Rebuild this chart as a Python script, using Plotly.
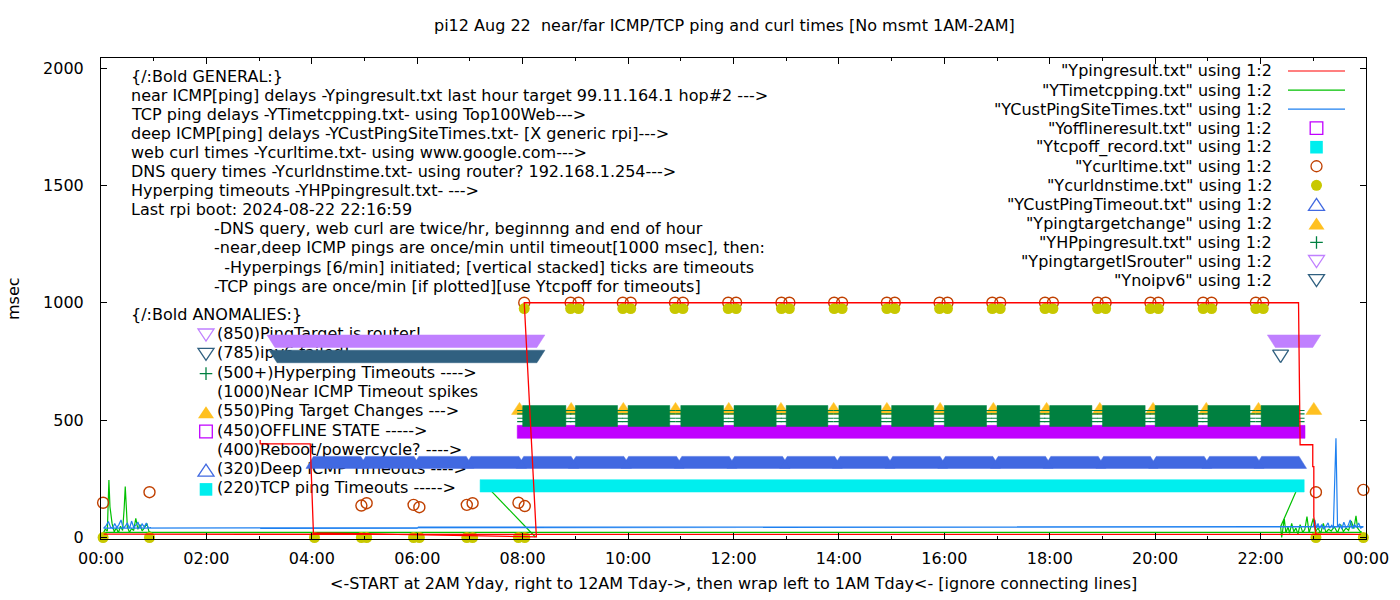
import plotly.graph_objects as go

# x = hours after midnight, y = msec

# near ICMP ping delays (Ypingresult.txt), kept in file order (wraps at midnight)
ping_t = [3.02, 3.02, 3.97, 4.03, 8.26, 8.03, 22.72, 22.75, 22.99, 22.99, 23.01, 23.01, 23.05, 23.90, 0.05, 0.95]
ping_ms = [415, 399, 399, 20, 3, 1000, 1000, 395, 395, 302, 302, 89, 15, 13, 14, 14]

# TCP ping delays (YTimetcpping.txt)
tcp_drop_t = [7.31, 8.24]
tcp_drop_ms = [220, 2]
tcp_t = [22.72, 22.38, 22.40, 22.45, 22.48, 22.52, 22.55, 22.59, 22.63, 22.67, 22.71, 22.75,
         22.80, 22.84, 22.88, 22.92, 22.96, 23.00, 23.04, 23.09, 23.14, 23.19, 23.24, 23.29,
         23.34, 23.40, 23.46, 23.52, 23.57, 23.62, 23.67, 23.72, 23.77, 23.81, 23.84, 23.88, 23.92,
         0.05, 0.08, 0.12, 0.15, 0.17, 0.21, 0.25, 0.29, 0.33, 0.37, 0.41, 0.44, 0.46, 0.50,
         0.54, 0.58, 0.62, 0.66, 0.70, 0.74, 0.78, 0.82, 0.87, 0.91, 0.95]
tcp_ms = [220, 46, 0, 79, 20, 45, 18, 60, 25, 40, 15, 55,
          22, 35, 89, 20, 50, 81, 25, 40, 18, 60, 22, 35,
          28, 45, 20, 55, 25, 40, 30, 70, 38, 92, 40, 28, 22,
          22, 35, 28, 245, 131, 60, 25, 40, 20, 48, 30, 126, 217, 45,
          22, 38, 30, 82, 35, 55, 28, 40, 60, 25, 22]

# deep ICMP delays (YCustPingSiteTimes.txt)
cust_t = [3.02, 6.00, 6.02, 23.00, 23.03, 23.06, 23.09, 23.12, 23.16, 23.20, 23.24, 23.28,
          23.31, 23.35, 23.38, 23.41, 23.43, 23.46, 23.50, 23.54, 23.58, 23.62, 23.66, 23.70,
          23.74, 23.78, 23.82, 23.86, 23.90, 23.95,
          0.05, 0.10, 0.14, 0.18, 0.22, 0.26, 0.30, 0.34, 0.38, 0.42, 0.46, 0.50,
          0.54, 0.58, 0.62, 0.66, 0.70, 0.74, 0.78, 0.82, 0.86, 0.90, 0.95]
cust_ms = [39, 39, 44, 46, 75, 40, 60, 38, 55, 35, 48, 62,
           40, 52, 38, 250, 423, 45, 58, 36, 65, 42, 50, 75,
           38, 55, 44, 62, 40, 46,
           40, 52, 68, 45, 38, 60, 42, 55, 75, 40, 48, 62,
           38, 70, 44, 52, 66, 40, 58, 45, 62, 40, 42]

# offline state (Yofflineresult.txt), one point per minute -> runs
OFFLINE_MS = 450
off_start = [8.02]
off_end = [22.72]

# TCP ping timeouts (Ytcpoff_record.txt)
TCPOFF_MS = 220
tcpoff_start = [7.31]
tcpoff_end = [22.71]

# web curl times (Ycurltime.txt)
curl_t = [0.04, 0.92, 4.94, 5.04, 5.93, 6.04, 6.94, 7.05, 7.92, 8.04,
          8.03, 8.91, 9.06, 9.90, 10.05, 10.89, 11.04, 11.90, 12.05, 12.91, 13.06,
          13.91, 14.06, 14.91, 15.06, 15.91, 16.06, 16.91, 17.06, 17.91, 18.06,
          18.91, 19.06, 19.91, 20.06, 20.91, 21.07, 21.91, 22.05, 23.05, 23.95]
curl_ms = [148, 193, 136, 146, 139, 129, 139, 146, 148, 134,
           1000, 1000, 1000, 1000, 1000, 1000, 1000, 1000, 1000, 1000, 1000,
           1000, 1000, 1000, 1000, 1000, 1000, 1000, 1000, 1000, 1000,
           1000, 1000, 1000, 1000, 1000, 1000, 1000, 1000, 193, 203]

# DNS query times (Ycurldnstime.txt)
dns_t = [0.04, 0.92, 4.05, 4.94, 5.04, 5.93, 6.04, 6.94, 7.05, 7.92, 8.04,
         8.03, 8.91, 9.06, 9.90, 10.05, 10.89, 11.04, 11.90, 12.05, 12.91, 13.06,
         13.91, 14.06, 14.91, 15.06, 15.91, 16.06, 16.91, 17.06, 17.91, 18.06,
         18.91, 19.06, 19.91, 20.06, 20.91, 21.07, 21.91, 22.05, 23.05, 23.95]
dns_ms = [0, 0, 0, 0, 0, 0, 0, 0, 0, 0, 0,
          975, 975, 975, 975, 975, 975, 975, 975, 975, 975, 975,
          975, 975, 975, 975, 975, 975, 975, 975, 975, 975,
          975, 975, 975, 975, 975, 975, 975, 975, 0, 0]

# deep ICMP timeouts (YCustPingTimeout.txt)
DEEP_MS = 320
deep_start = [4.03, 5.02, 6.03, 7.02, 8.02, 9.01, 10.01, 11.02, 12.02, 13.02,
              14.02, 15.02, 16.02, 17.02, 18.02, 19.02, 20.02, 21.03, 22.02]
deep_end = [4.93, 5.94, 6.93, 7.93, 8.92, 9.92, 10.92, 11.92, 12.93, 13.92,
            14.92, 15.92, 16.92, 17.92, 18.92, 19.91, 20.93, 21.92, 22.73]

# ping target changes (Ypingtargetchange)
TARGET_MS = 550
tc_t = [7.94, 8.92, 9.91, 10.90, 11.91, 12.90, 13.90, 14.91, 15.92, 16.93,
        17.94, 18.95, 19.96, 20.97, 21.96, 23.01]

# hyperping timeouts (YHPpingresult.txt), stacked levels
hp_levels = [494, 508, 527, 541]
hp_start = [8.00, 9.00, 10.00, 11.00, 12.01, 13.00, 14.00, 15.00, 16.00, 17.00,
            18.00, 19.00, 20.00, 21.00, 22.01]
hp_end = [8.82, 9.80, 10.79, 11.81, 12.81, 13.79, 14.80, 15.80, 16.80, 17.81,
          18.80, 19.81, 20.81, 21.80, 22.73]

# ping target is router (YpingtargetISrouter)
ISROUTER_MS = 850
isr_start = [3.30, 22.28]
isr_end = [8.27, 22.99]

# no ipv6 (Ynoipv6)
NOIPV6_MS = 785
v6_start = [3.34]
v6_end = [8.27]
v6_single = [22.38]

hour_ticks = [0, 2, 4, 6, 8, 10, 12, 14, 16, 18, 20, 22, 24]
hour_labels = ["00:00", "02:00", "04:00", "06:00", "08:00", "10:00", "12:00",
               "14:00", "16:00", "18:00", "20:00", "22:00", "00:00"]
odd_hours = [1, 3, 5, 7, 9, 11, 13, 15, 17, 19, 21, 23]

general_lines = [
    "{/:Bold GENERAL:}",
    "near ICMP[ping] delays -Ypingresult.txt last hour target 99.11.164.1 hop#2 ---&gt;",
    "TCP ping delays -YTimetcpping.txt- using Top100Web---&gt;",
    "deep ICMP[ping] delays -YCustPingSiteTimes.txt- [X generic rpi]---&gt;",
    "web curl times -Ycurltime.txt- using www.google.com---&gt;",
    "DNS query times -Ycurldnstime.txt- using router? 192.168.1.254---&gt;",
    "Hyperping timeouts -YHPpingresult.txt- ---&gt;",
    "Last rpi boot: 2024-08-22 22:16:59",
    "-DNS query, web curl are twice/hr, beginnng and end of hour",
    "-near,deep ICMP pings are once/min until timeout[1000 msec], then:",
    "  -Hyperpings [6/min] initiated; [vertical stacked] ticks are timeouts",
    "-TCP pings are once/min [if plotted][use Ytcpoff for timeouts]",
]
anomaly_lines = [
    "(850)PingTarget is router!",
    "(785)ipv6 failed!",
    "(500+)Hyperping Timeouts ----&gt;",
    "(1000)Near ICMP Timeout spikes",
    "(550)Ping Target Changes ---&gt;",
    "(450)OFFLINE STATE -----&gt;",
    "(400)Reboot/powercycle? ----&gt;",
    "(320)Deep ICMP Timeouts ----&gt;",
    "(220)TCP ping Timeouts -----&gt;",
]
anomaly_keys = ["tri-down-open", "tri-down-open", "plus", None, "tri-up", "square-open", None,
                "tri-up-open", "square"]
anomaly_colors = ["#c080ff", "#306080", "#008040", None, "#ffc020", "#c000ff", None,
                  "#4169e1", "#00eeee"]
legend_names = ['"Ypingresult.txt" using 1:2', '"YTimetcpping.txt" using 1:2',
                '"YCustPingSiteTimes.txt" using 1:2', '"Yofflineresult.txt" using 1:2',
                '"Ytcpoff_record.txt" using 1:2', '"Ycurltime.txt" using 1:2',
                '"Ycurldnstime.txt" using 1:2', '"YCustPingTimeout.txt" using 1:2',
                '"Ypingtargetchange" using 1:2', '"YHPpingresult.txt" using 1:2',
                '"YpingtargetISrouter" using 1:2', '"Ynoipv6" using 1:2']
legend_keys = ["line", "line", "line", "square-open", "square", "circle-open", "circle",
               "tri-up-open", "tri-up", "plus", "tri-down-open", "tri-down-open"]
legend_colors = ["#ff0000", "#00c000", "#1e80f0", "#c000ff", "#00eeee", "#c04000", "#c8c800",
                 "#4169e1", "#ffc020", "#008040", "#c080ff", "#306080"]

# plot frame in page pixels
LEFT, RIGHT, TOP, BOTTOM = 101, 1366, 58, 539
Y_MIN, Y_MAX = -6.4, 2042.6
H_PX = 24 / (RIGHT - LEFT)
MS_PX = (Y_MAX - Y_MIN) / (BOTTOM - TOP)


def xp(px):
    return (px - LEFT) / (RIGHT - LEFT)


def yp(py):
    return (BOTTOM - py) / (BOTTOM - TOP)


def band(starts, ends, value, up_px, down_px, top_pad, bot_pad):
    # outline of a run of densely packed point symbols
    top = value + up_px * MS_PX
    bot = value - down_px * MS_PX
    xs, ys = [], []
    for s, e in zip(starts, ends):
        xs += [s - bot_pad * H_PX, e + bot_pad * H_PX, e + top_pad * H_PX,
               s - top_pad * H_PX, s - bot_pad * H_PX, None]
        ys += [bot, bot, top, top, bot, None]
    return xs, ys


def filled(xy, color):
    return go.Scatter(x=xy[0], y=xy[1], mode="lines", fill="toself", fillcolor=color,
                      line=dict(color=color, width=0.5), hoverinfo="skip")


def key_shapes(kind, cx, cy, color):
    clear = "rgba(0,0,0,0)"
    if kind == "line":
        return [dict(type="line", x0=xp(cx - 28.5), x1=xp(cx + 28.5), y0=yp(cy), y1=yp(cy),
                     line=dict(color=color, width=1.2))]
    if kind.startswith("square"):
        return [dict(type="rect", x0=xp(cx - 6.3), x1=xp(cx + 6.3), y0=yp(cy + 6.3), y1=yp(cy - 6.3),
                     line=dict(color=color, width=1.3 if kind.endswith("open") else 0),
                     fillcolor=clear if kind.endswith("open") else color)]
    if kind.startswith("circle"):
        return [dict(type="circle", x0=xp(cx - 5.5), x1=xp(cx + 5.5), y0=yp(cy + 5.5), y1=yp(cy - 5.5),
                     line=dict(color=color, width=1.3 if kind.endswith("open") else 0),
                     fillcolor=clear if kind.endswith("open") else color)]
    if kind == "plus":
        path = (f"M{xp(cx - 6.3)},{yp(cy)} L{xp(cx + 6.3)},{yp(cy)} "
                f"M{xp(cx)},{yp(cy - 6.3)} L{xp(cx)},{yp(cy + 6.3)}")
        return [dict(type="path", path=path, line=dict(color=color, width=1.3))]
    if kind.startswith("tri-down"):
        path = (f"M{xp(cx - 8)},{yp(cy - 6)} L{xp(cx + 8)},{yp(cy - 6)} "
                f"L{xp(cx)},{yp(cy + 6)} Z")
    else:
        path = (f"M{xp(cx - 8)},{yp(cy + 6)} L{xp(cx + 8)},{yp(cy + 6)} "
                f"L{xp(cx)},{yp(cy - 6)} Z")
    is_open = kind.endswith("open")
    return [dict(type="path", path=path, line=dict(color=color, width=1.3 if is_open else 0),
                 fillcolor=clear if is_open else color)]


fig = go.Figure()

# anomaly notes sit underneath the data, as in the original
anom_rows = [335 + 19.3 * i for i in range(len(anomaly_lines))]
fig.add_trace(go.Scatter(
    x=[(217 - LEFT) * H_PX for _ in anomaly_lines],
    y=[Y_MIN + (BOTTOM - r) * MS_PX for r in anom_rows],
    mode="text", text=anomaly_lines, textposition="middle right",
    textfont=dict(family="DejaVu Sans", size=16, color="black"), hoverinfo="skip",
))

fig.add_trace(go.Scatter(x=tcp_drop_t + [None] + tcp_t, y=tcp_drop_ms + [None] + tcp_ms,
                         mode="lines", line=dict(color="#00c000", width=1.2), hoverinfo="skip"))
fig.add_trace(go.Scatter(x=cust_t, y=cust_ms, mode="lines",
                         line=dict(color="#1e80f0", width=1.2), hoverinfo="skip"))

fig.add_trace(filled(band(off_start, off_end, OFFLINE_MS, 6.5, 6.5, 6.5, 6.5), "#c000ff"))
fig.add_trace(filled(band(tcpoff_start, tcpoff_end, TCPOFF_MS, 6.2, 6.2, 6.2, 6.2), "#00eeee"))

fig.add_trace(go.Scatter(x=curl_t, y=curl_ms, mode="markers", hoverinfo="skip", cliponaxis=False,
                         marker=dict(symbol="circle-open", size=11, color="#c04000",
                                     line=dict(width=1.4, color="#c04000"))))
fig.add_trace(go.Scatter(x=dns_t, y=dns_ms, mode="markers", hoverinfo="skip", cliponaxis=False,
                         marker=dict(symbol="circle", size=11, color="#c8c800")))

fig.add_trace(filled(band(deep_start, deep_end, DEEP_MS, 6, 6, 0, 7.5), "#4169e1"))
fig.add_trace(filled(band(tc_t, tc_t, TARGET_MS, 6, 6, 0, 8), "#ffc020"))

# hyperping: vertical strokes fill the block, horizontal strokes stick out
hp_span_px = (max(hp_levels) - min(hp_levels)) / MS_PX
fig.add_trace(filled(band(hp_start, hp_end, min(hp_levels), hp_span_px + 5, 5, 0, 0), "#008040"))
arm_x, arm_y = [], []
for lvl in hp_levels:
    for s, e in zip(hp_start, hp_end):
        arm_x += [s - 5.5 * H_PX, e + 5.5 * H_PX, None]
        arm_y += [lvl, lvl, None]
fig.add_trace(go.Scatter(x=arm_x, y=arm_y, mode="lines", hoverinfo="skip",
                         line=dict(color="#008040", width=1.2)))

fig.add_trace(filled(band(isr_start, isr_end, ISROUTER_MS, 3, 9.5, 8, 0), "#c080ff"))
fig.add_trace(filled(band(v6_start, v6_end, NOIPV6_MS, 3, 9.5, 8, 0), "#306080"))
v6_single_xy = band(v6_single, v6_single, NOIPV6_MS, 3, 9.5, 8, 0)
fig.add_trace(go.Scatter(x=v6_single_xy[0], y=v6_single_xy[1], mode="lines", hoverinfo="skip",
                         line=dict(color="#306080", width=1.3)))

fig.add_trace(go.Scatter(x=ping_t, y=ping_ms, mode="lines",
                         line=dict(color="#ff0000", width=1.3), hoverinfo="skip"))

shapes = []
for i, (kind, col) in enumerate(zip(legend_keys, legend_colors)):
    shapes += key_shapes(kind, 1316.5, 71 + 19.05 * i, col)
for kind, col, row in zip(anomaly_keys, anomaly_colors, anom_rows):
    if kind:
        shapes += key_shapes(kind, 206, row, col)
for s in shapes:
    s.update(xref="paper", yref="paper", layer="above")

annotations = []
for i, line in enumerate(general_lines):
    x0 = 129 if i < 8 else 212
    annotations.append(dict(text=line.replace("  ", "\u00a0\u00a0"), x=xp(x0), y=yp(76 + 19.1 * i),
                            xanchor="left", yanchor="middle"))
annotations.append(dict(text="{/:Bold ANOMALIES:}", x=xp(129), y=yp(314),
                        xanchor="left", yanchor="middle"))
for i, name in enumerate(legend_names):
    annotations.append(dict(text=name, x=xp(1274), y=yp(71 + 19.05 * i),
                            xanchor="right", yanchor="middle"))
annotations.append(dict(text="pi12 Aug 22\u00a0\u00a0near/far ICMP/TCP ping and curl times [No msmt 1AM-2AM]",
                        x=xp(724), y=yp(25), xanchor="center", yanchor="middle"))
annotations.append(dict(text="&lt;-START at 2AM Yday, right to 12AM Tday-&gt;, then wrap left to "
                             "1AM Tday&lt;- [ignore connecting lines]",
                        x=xp(733), y=yp(583), xanchor="center", yanchor="middle"))
annotations.append(dict(text="msec", x=xp(13), y=yp(299), textangle=-90,
                        xanchor="center", yanchor="middle"))
for a in annotations:
    a.update(xref="paper", yref="paper", showarrow=False)

fig.update_layout(
    width=1400, height=600,
    margin=dict(l=LEFT, r=1400 - RIGHT, t=TOP, b=600 - BOTTOM),
    paper_bgcolor="white", plot_bgcolor="white",
    font=dict(family="DejaVu Sans", size=16, color="black"),
    showlegend=False,
    shapes=shapes,
    annotations=annotations,
    xaxis=dict(range=[0, 24], tickvals=hour_ticks, ticktext=hour_labels,
               ticks="inside", ticklen=6, tickcolor="black",
               minor=dict(tickvals=odd_hours, ticks="inside", ticklen=3, tickcolor="black"),
               showline=True, linecolor="black", linewidth=1, mirror="ticks",
               showgrid=False, zeroline=False, ticklabelstandoff=5),
    yaxis=dict(range=[Y_MIN, Y_MAX], tickvals=[0, 500, 1000, 1500, 2000],
               ticks="inside", ticklen=6, tickcolor="black",
               showline=True, linecolor="black", linewidth=1, mirror="ticks",
               showgrid=False, zeroline=False, ticklabelstandoff=13),
)

fig.write_html("out.html", config={"displayModeBar": False},
               post_script="document.body.style.margin='0';")
